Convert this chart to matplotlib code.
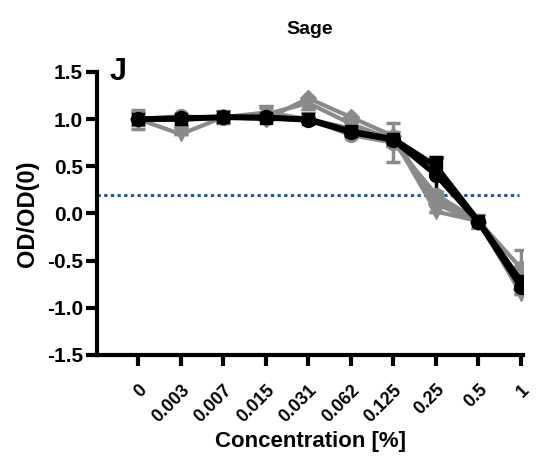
import matplotlib
matplotlib.use("Agg")
import matplotlib.pyplot as plt
import numpy as np

plt.rcParams['font.family'] = ['Liberation Sans', 'DejaVu Sans']
plt.rcParams['font.weight'] = 'bold'

conc = ['0', '0.003', '0.007', '0.015', '0.031', '0.062', '0.125', '0.25', '0.5', '1']

# grey replicates
grey_circle = [1.00, 1.03, 1.01, 1.02, 1.00, 0.83, 0.75, 0.20, -0.08, -0.58]
grey_circle_err = [0.10, 0.0, 0.0, 0.0, 0.0, 0.0, 0.21, 0.0, 0.0, 0.19]
grey_down = [1.00, 0.84, 1.02, 1.07, 1.00, 0.90, 0.80, 0.02, -0.08, -0.85]
grey_down_err = [0.0, 0.0, 0.0, 0.05, 0.0, 0.0, 0.0, 0.0, 0.0, 0.0]
grey_diamond = [1.00, 1.00, 1.02, 1.00, 1.22, 1.02, 0.82, 0.10, -0.09, -0.80]
grey_up = [1.00, 1.00, 1.02, 1.05, 1.17, 0.95, 0.78, 0.15, -0.09, -0.75]

# black replicates
black_square = [1.00, 1.00, 1.02, 1.01, 1.00, 0.87, 0.79, 0.50, -0.08, -0.72]
black_square_err = [0.0, 0.0, 0.0, 0.0, 0.0, 0.0, 0.0, 0.10, 0.0, 0.0]
black_circle = [1.00, 1.01, 1.02, 1.02, 0.99, 0.86, 0.78, 0.41, -0.09, -0.78]
black_circle_err = [0.0, 0.0, 0.0, 0.0, 0.0, 0.0, 0.0, 0.18, 0.0, 0.0]

threshold = 0.2

x = np.arange(len(conc))
grey = '#8a8a8a'

fig = plt.figure(figsize=(5.36, 4.61), dpi=100)
ax = fig.add_axes([0.181, 0.230, 0.795, 0.614])

def series(y, color, marker, lw, ms, err=None):
    yerr = None
    if err is not None:
        yerr = np.array(err)
    ax.errorbar(x, y, yerr=yerr, color=color, marker=marker, lw=lw, ms=ms,
                capsize=5, capthick=2.5, elinewidth=2.5, zorder=3)

series(grey_down, grey, 'v', 3, 10, grey_down_err)
series(grey_diamond, grey, 'D', 3, 8)
series(grey_up, grey, '^', 3, 10)
series(grey_circle, grey, 'o', 3, 10, grey_circle_err)
series(black_circle, 'black', 'o', 4, 10, black_circle_err)
series(black_square, 'black', 's', 4, 9, black_square_err)

ax.axhline(threshold, color='#1c4f91', ls=(0, (1.2, 1.2)), lw=2, zorder=2,
           xmin=0, xmax=0.99)

ax.set_xlim(-0.97, 9.05)
ax.set_ylim(-1.5, 1.5)
ax.set_yticks([-1.5, -1.0, -0.5, 0.0, 0.5, 1.0, 1.5])
ax.set_yticklabels(['-1.5', '-1.0', '-0.5', '0.0', '0.5', '1.0', '1.5'])
ax.set_xticks(x)
ax.set_xticklabels(conc, rotation=45, ha='right', rotation_mode='anchor',
                   family=['Liberation Sans Narrow', 'Liberation Sans'])

for s in ['top', 'right']:
    ax.spines[s].set_visible(False)
for s in ['left', 'bottom']:
    ax.spines[s].set_linewidth(3)
ax.spines['left'].set_bounds(-1.5, 1.5)
ax.tick_params(width=3, length=8)
ax.tick_params(axis='y', labelsize=15, pad=2)
ax.tick_params(axis='x', labelsize=13, pad=11)
for lab in ax.get_xticklabels() + ax.get_yticklabels():
    lab.set_fontweight('bold')

ax.set_ylabel('OD/OD(0)', fontsize=17, fontweight='bold', labelpad=6)
ax.set_xlabel('Concentration [%]', fontsize=16, fontweight='bold', labelpad=4)
ax.set_title('Sage', fontsize=14, fontweight='bold', pad=27)
ax.text(0.03, 1.0, 'J', transform=ax.transAxes, fontsize=22, fontweight='bold',
        va='center', ha='left')

fig.savefig('out.png', dpi=100)
